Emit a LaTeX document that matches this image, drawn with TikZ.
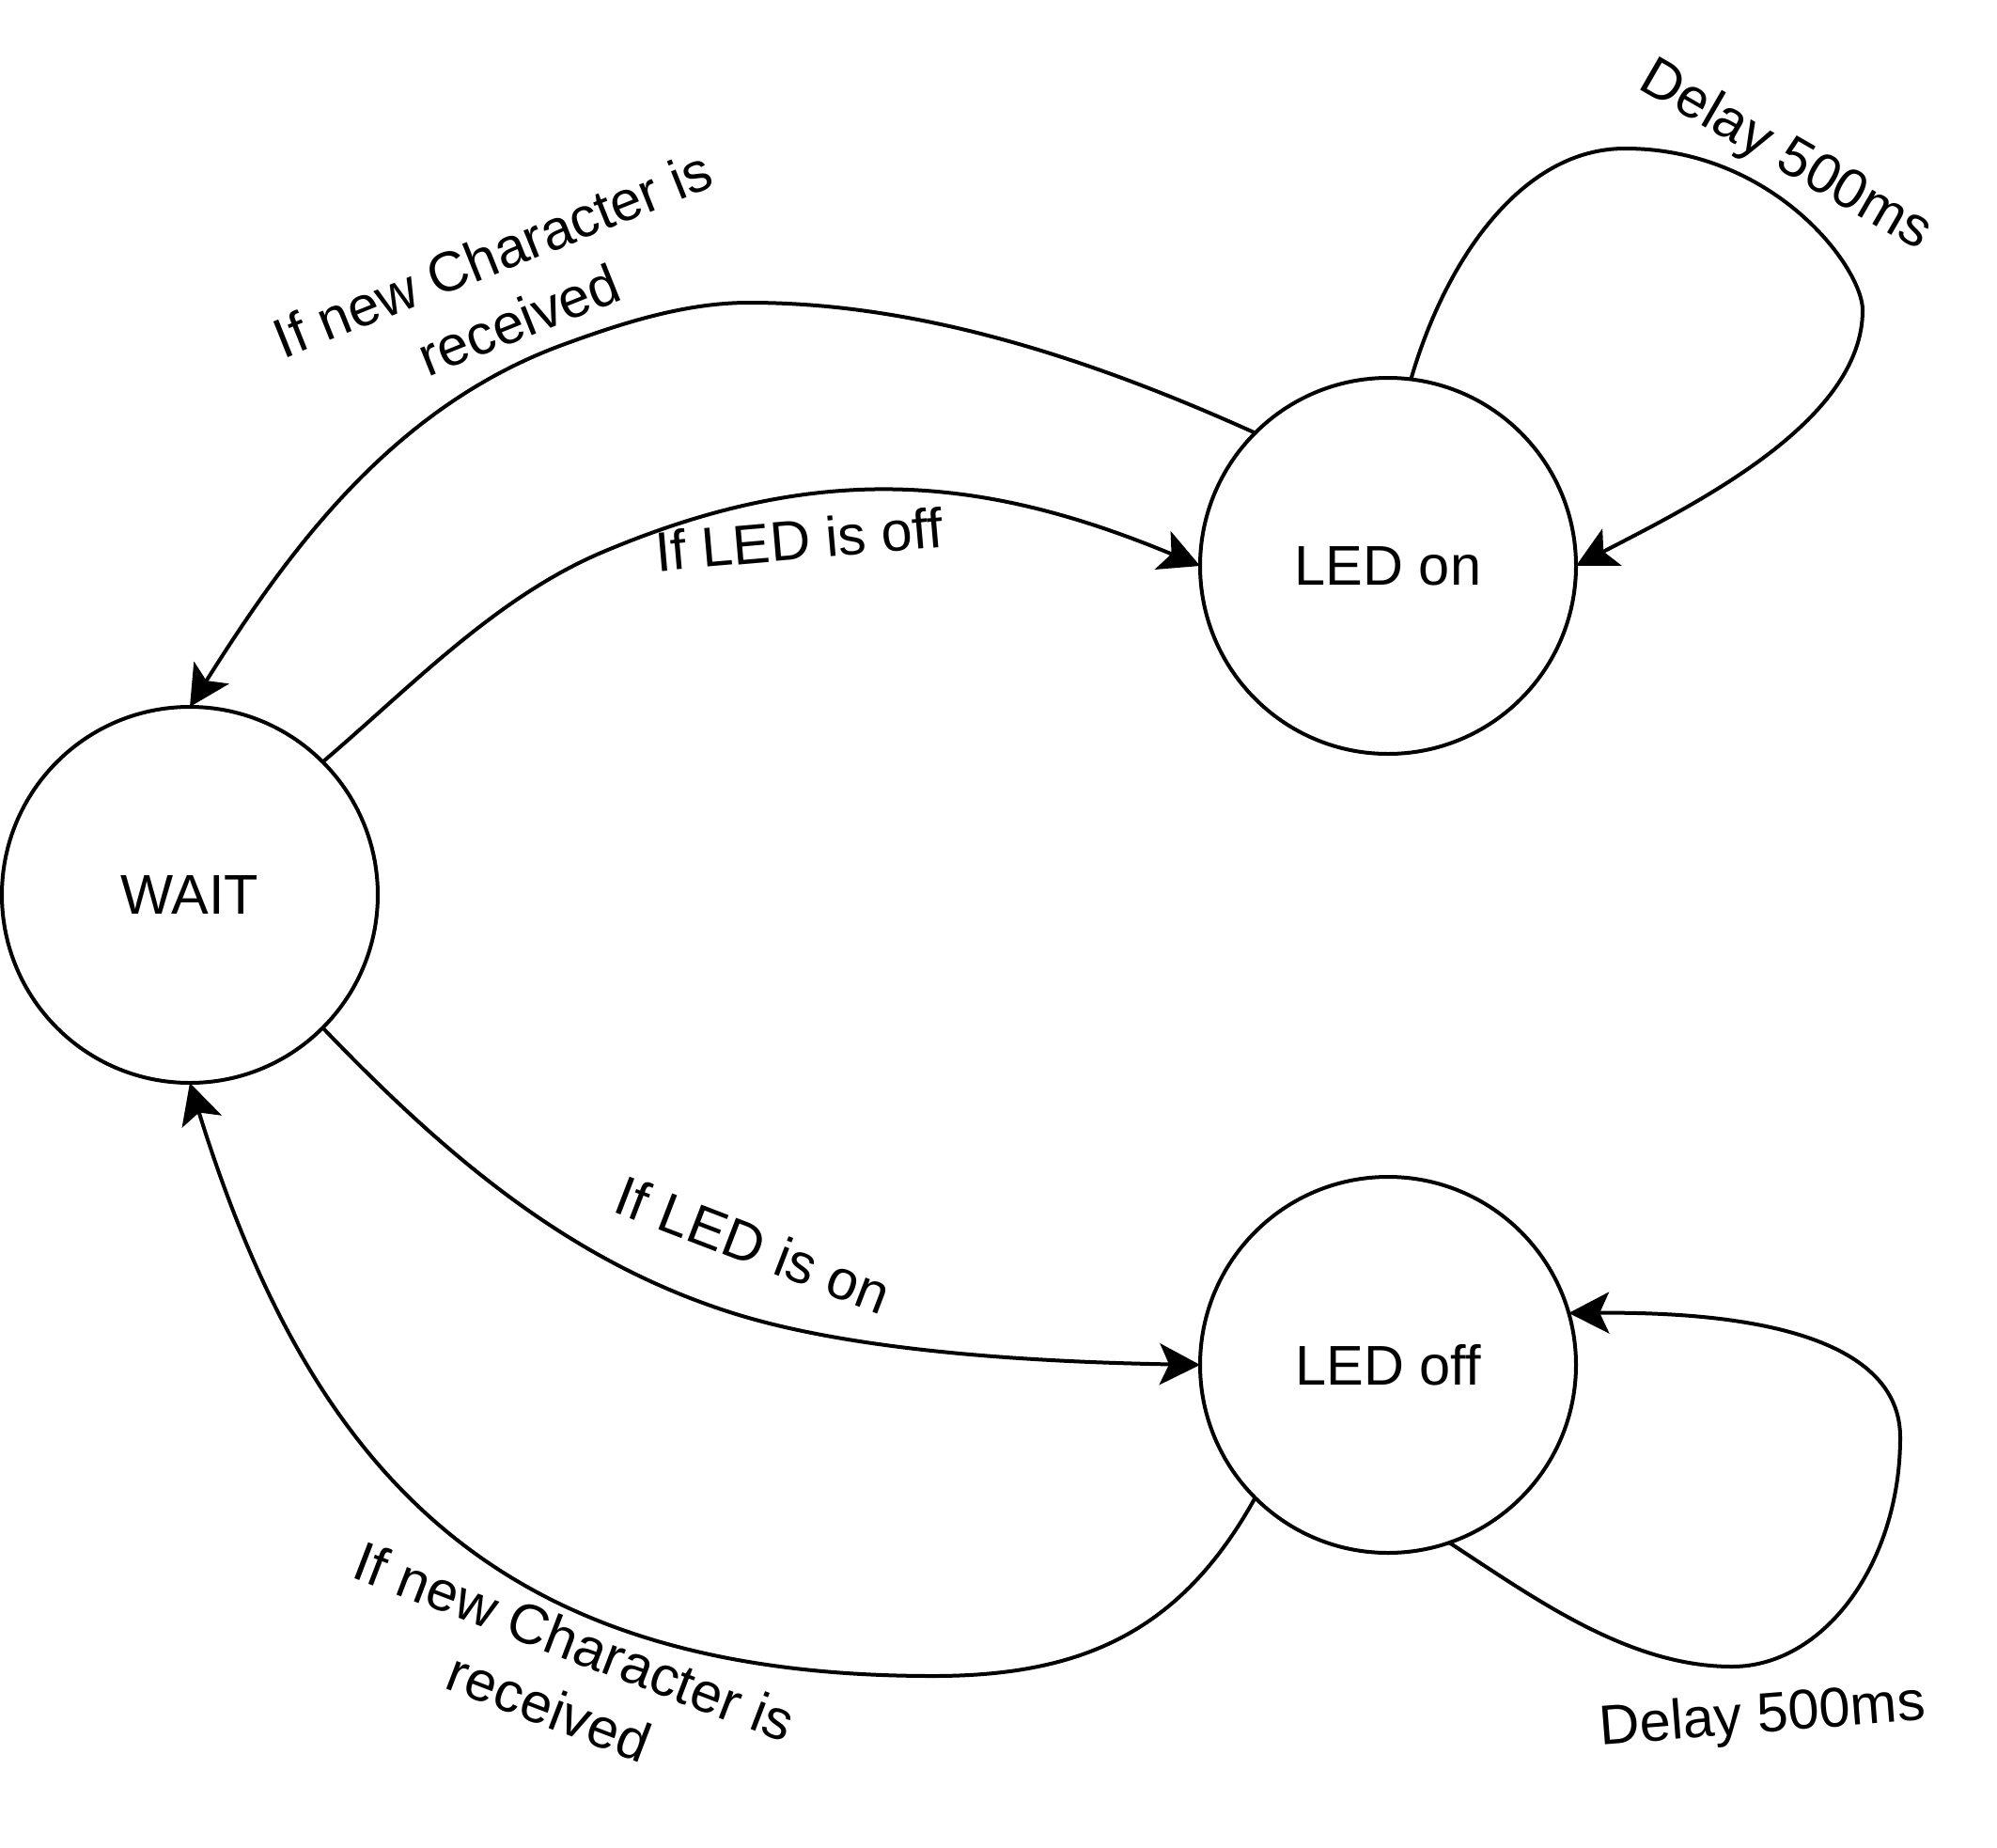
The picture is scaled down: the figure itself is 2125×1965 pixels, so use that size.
\documentclass[tikz,border=0pt]{standalone}
\usepackage{fontspec}
\setmainfont{Liberation Sans}
\usetikzlibrary{arrows.meta}
\begin{document}
\begin{tikzpicture}[x=1pt,y=-1pt,
  state/.style={circle, draw, line width=4pt, minimum size=400pt, inner sep=0pt, outer sep=0pt, font=\fontsize{59.5pt}{72pt}\selectfont},
  conn/.style={line width=4pt, -{Stealth[length=43pt,width=44pt,inset=10pt]}},
  lbl/.style={inner sep=0pt, font=\fontsize{59.5pt}{75pt}\selectfont, align=center}]
\useasboundingbox (0,0) rectangle (2125,1965);
\node[state] (wait) at (202,952) {WAIT};
\node[state] (ledon) at (1477,602) {LED on};
\node[state] (ledoff) at (1477,1452) {LED off};

% LED on -> WAIT
\draw[conn] (ledon.135) .. controls (1166,384) and (982,322) .. (797,322)
  .. controls (730,322) and (664,343) .. (601,366)
  .. controls (413,434) and (302,594) .. (wait.north);
% WAIT -> LED on
\draw[conn] (wait.45) .. controls (438,730) and (528,635) .. (642,587)
  .. controls (872,490) and (1046,506) .. (ledon.west);
% WAIT -> LED off
\draw[conn] (wait.-45) .. controls (482,1238) and (612,1344) .. (780,1397)
  .. controls (913,1439) and (1110,1449) .. (ledoff.west);
% LED off -> WAIT
\draw[conn] (ledoff.-135) .. controls (1257,1735) and (1153,1783) .. (993,1783)
  .. controls (543,1783) and (336,1584) .. (wait.south);
% LED on self loop
\draw[conn] (ledon.83) .. controls (1538,277) and (1619,158) .. (1729,158)
  .. controls (1888,158) and (1982,285) .. (1982,330)
  .. controls (1982,450) and (1798,539) .. (ledon.east);
% LED off self loop
\draw[conn] (ledoff.-71) .. controls (1634,1701) and (1733,1773) .. (1843,1773)
  .. controls (1941,1773) and (2022,1663) .. (2022,1529)
  .. controls (2022,1449) and (1930,1395) .. (ledoff.16);

\node[lbl, rotate=21.8] (l1) at (538,305) {If new Character is\\received};
\node[lbl, rotate=4.9, anchor=base] (l2) at (852,595) {If LED is off};
\node[lbl, rotate=-21, anchor=base] (l3) at (794,1344) {If LED is on};
\node[lbl, rotate=-20.9] (l4) at (598,1781) {If new Character is\\received};
\node[lbl, rotate=-30, anchor=base] (l5) at (1892,180) {Delay 500ms};
\node[lbl, rotate=4.5, anchor=base] (l6) at (1877,1843) {Delay 500ms};
\end{tikzpicture}
\end{document}
